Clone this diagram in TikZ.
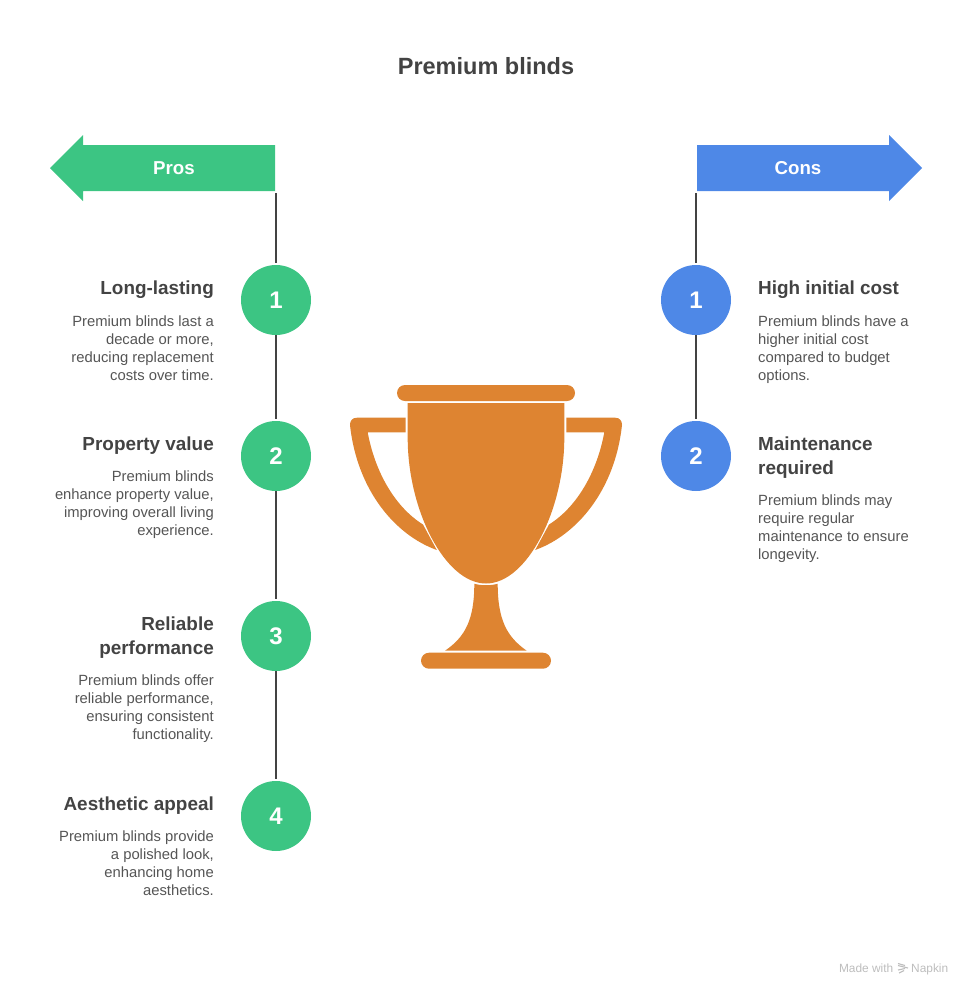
\documentclass[tikz,border=0pt]{standalone}
\usepackage{fontspec}
\setmainfont{Liberation Sans}
\usetikzlibrary{calc, chains, positioning}

\definecolor{prosgreen}{HTML}{3CC583}
\definecolor{consblue}{HTML}{4E88E7}
\definecolor{cuporange}{HTML}{DE8431}
\definecolor{inkdark}{HTML}{434343}
\definecolor{inkbody}{HTML}{555555}
\definecolor{inkfaint}{HTML}{BDBDBD}

\begin{document}
\begin{tikzpicture}[
   x = 1pt, y = -1pt,
   start chain = pros going below,
   stepdot/.style = {circle, minimum size = 70pt, inner sep = 0pt, outer sep = 0pt, text = white,
      font = \fontsize{24}{28}\selectfont\bfseries},
   prosdot/.style = {stepdot, fill = prosgreen},
   consdot/.style = {stepdot, fill = consblue},
   stemline/.style = {draw = inkdark, line width = 2pt, shorten > = 2.5pt},
   headtext/.style = {inner sep = 0pt, text = inkdark, font = \fontsize{18.9}{24}\selectfont\bfseries},
   bodytext/.style = {inner sep = 0pt, text = inkbody, font = \fontsize{14.8}{18}\selectfont},
   sidelabel/.style = {text = white, inner sep = 0pt, font = \fontsize{18.7}{22}\selectfont\bfseries},
   cupshape/.style = {fill = cuporange},
   footnote/.style = {text = inkfaint, inner sep = 0pt, font = \fontsize{11.9}{14}\selectfont}]
   \useasboundingbox (0,0) rectangle (972,996);

   \node[text = inkdark, font = \fontsize{23.5}{28}\selectfont\bfseries] (title) at (486,66) {Premium blinds};

   % banners
   \fill[prosgreen] (275,145) -- (83,145) -- (83,135) -- (50,168) -- (83,201) -- (83,191) -- (275,191) -- cycle;
   \fill[consblue] (697,145) -- (889,145) -- (889,135) -- (922,168) -- (889,201) -- (889,191) -- (697,191) -- cycle;
   \node[sidelabel] (pros) at (174,168) {Pros};
   \node[sidelabel] (cons) at (798,168) {Cons};
   \coordinate (prosfoot) at (276,193);
   \coordinate (consfoot) at (696,193);

   % pros column
   \node[prosdot, on chain = pros] (p1) at (276,300) {1};
   \node[prosdot, node distance = 86pt, on chain = pros] (p2) {2};
   \node[prosdot, node distance = 110pt, on chain = pros] (p3) {3};
   \node[prosdot, node distance = 110pt, on chain = pros] (p4) {4};

   \draw[stemline] (prosfoot) -- (p1);
   \draw[stemline] (p1) -- (p2);
   \draw[stemline] (p2) -- (p3);
   \draw[stemline] (p3) -- (p4);

   \node[headtext, below left = -19pt and 27pt of p1.west, align = right] (p1head) {Long-lasting};
   \node[bodytext, below = 16pt of p1head.south east, anchor = north east, align = right] (p1body)
      {Premium blinds last a\\decade or more,\\reducing replacement\\costs over time.};
   \node[headtext, below left = -19pt and 27pt of p2.west, align = right] (p2head) {Property value};
   \node[bodytext, below = 16pt of p2head.south east, anchor = north east, align = right] (p2body)
      {Premium blinds\\enhance property value,\\improving overall living\\experience.};
   \node[headtext, below left = -19pt and 27pt of p3.west, align = right] (p3head) {Reliable\\performance};
   \node[bodytext, below = 16pt of p3head.south east, anchor = north east, align = right] (p3body)
      {Premium blinds offer\\reliable performance,\\ensuring consistent\\functionality.};
   \node[headtext, below left = -19pt and 27pt of p4.west, align = right] (p4head) {Aesthetic appeal};
   \node[bodytext, below = 16pt of p4head.south east, anchor = north east, align = right] (p4body)
      {Premium blinds provide\\a polished look,\\enhancing home\\aesthetics.};

   % cons column
   \node[consdot] (c1) at (696,300) {1};
   \node[consdot, below = 86pt of c1] (c2) {2};

   \draw[stemline] (consfoot) -- (c1);
   \draw[stemline] (c1) -- (c2);

   \node[headtext, below right = -19pt and 27pt of c1.east, align = left] (c1head) {High initial cost};
   \node[bodytext, below = 16pt of c1head.south west, anchor = north west, align = left] (c1body)
      {Premium blinds have a\\higher initial cost\\compared to budget\\options.};
   \node[headtext, below right = -19pt and 27pt of c2.east, align = left] (c2head) {Maintenance\\required};
   \node[bodytext, below = 16pt of c2head.south west, anchor = north west, align = left] (c2body)
      {Premium blinds may\\require regular\\maintenance to ensure\\longevity.};

   % trophy
   \fill[cupshape, rounded corners = 8pt] (397,385) rectangle (575,401);
   \fill[cupshape] (407.7,403) -- (564.3,403) -- (564.3,438)
      .. controls (564.3,510) and (527,583.5) .. (486,583.5)
      .. controls (445,583.5) and (407.7,510) .. (407.7,438) -- cycle;
   \fill[cupshape] (405.7,417.7) -- (357,417.7) .. controls (352,417.7) and (350,421) .. (350,425)
      .. controls (357,490) and (395,535) .. (436.8,550) -- (423,524.5)
      .. controls (395,507) and (375,472) .. (367.7,432.3) -- (405.7,432.3) -- cycle;
   \fill[cupshape] (566.3,417.7) -- (615,417.7) .. controls (620,417.7) and (622,421) .. (622,425)
      .. controls (615,490) and (577,535) .. (535.2,550) -- (549,524.5)
      .. controls (577,507) and (597,472) .. (604.3,432.3) -- (566.3,432.3) -- cycle;
   \fill[cupshape] (474.3,583.7) .. controls (480,585.7) and (492,585.7) .. (497.7,583.7)
      .. controls (497.7,620) and (507,637) .. (526.7,650.7) -- (445,650.7)
      .. controls (465,637) and (474.3,620) .. (474.3,583.7) -- cycle;
   \fill[cupshape, rounded corners = 8pt] (421,652.7) rectangle (551,668.7);

   % footer mark
   \node[footnote, anchor = base east] (made) at (893.5,972.5) {Made with};
   \node[footnote, anchor = base west] (napkin) at (911,972.5) {Napkin};
   \draw[inkfaint, line width = 1.1pt] (898,963.5) -- (905,965.5) (898,965.5) -- (908,968) (898,970) -- (905,968.5) (899,973) -- (904,970.5);
\end{tikzpicture}
\end{document}
